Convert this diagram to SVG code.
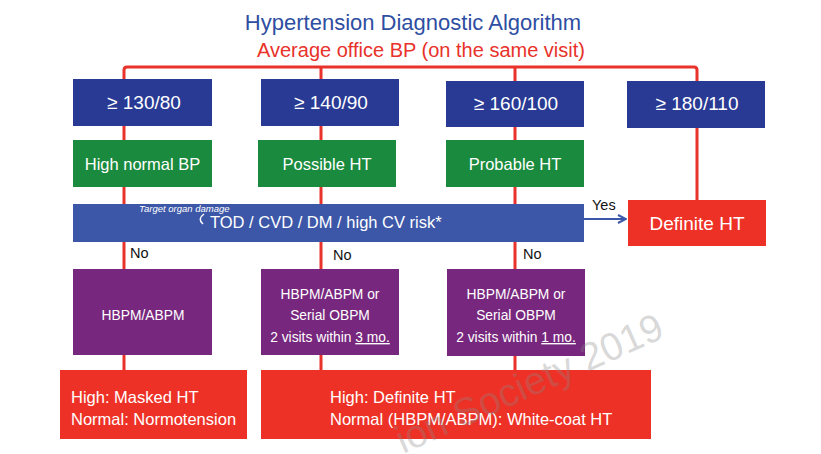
<svg xmlns="http://www.w3.org/2000/svg" width="821" height="454" viewBox="0 0 821 454">
<style>
text{font-family:"Liberation Sans",Arial,sans-serif}
.bl{fill:#283a94}
.gr{fill:#1a8a3e}
.pu{fill:#77277d}
.rd{fill:#ee3126}
.bar{fill:#3c57a8}
.w{fill:#ffffff}
.ln{stroke:#e8322a;stroke-width:3;fill:none}
.t18{font-size:19px;text-anchor:middle}
.t15{font-size:16.5px;text-anchor:middle}
.t13{font-size:13.8px;text-anchor:middle}
.t16{font-size:16.5px}
.no{font-size:14.5px;fill:#111}
</style>
<defs>
<marker id="ah" markerWidth="10" markerHeight="10" refX="9" refY="5" orient="auto" markerUnits="userSpaceOnUse">
<path d="M1,1 L9,5 L1,9" fill="none" stroke="#3c57a8" stroke-width="2"/>
</marker>
</defs>
<rect width="821" height="454" fill="#ffffff"/>
<text x="413" y="30" text-anchor="middle" font-size="22" fill="#2e4ea2">Hypertension Diagnostic Algorithm</text>
<text x="421" y="57" text-anchor="middle" font-size="20" fill="#e8322a">Average office BP (on the same visit)</text>
<g id="connectors">
<path class="ln" d="M124,81 V70 Q124,67 127,67 H694 Q697,67 697,70 V200"/>
<path class="ln" d="M124,81 V370"/>
<path class="ln" d="M321,67 V370"/>
<path class="ln" d="M515,67 V370"/>
<line x1="584" y1="219" x2="626" y2="219" stroke="#3c57a8" stroke-width="2" marker-end="url(#ah)"/>
<text class="no" x="592" y="210">Yes</text>
<text class="no" x="130" y="258">No</text>
<text class="no" x="333" y="260">No</text>
<text class="no" x="523" y="259">No</text>
</g>
<g id="n130"><rect class="bl" x="73" y="79" width="139" height="47"/><text class="t18 w" x="144" y="109">≥ 130/80</text></g>
<g id="n140"><rect class="bl" x="261" y="79" width="138" height="47"/><text class="t18 w" x="331" y="109">≥ 140/90</text></g>
<g id="n160"><rect class="bl" x="446" y="81" width="138" height="46"/><text class="t18 w" x="516" y="110">≥ 160/100</text></g>
<g id="n180"><rect class="bl" x="627" y="81" width="138" height="47"/><text class="t18 w" x="697" y="110">≥ 180/110</text></g>
<g id="highnormal"><rect class="gr" x="73" y="140" width="139" height="47"/><text class="t15 w" x="142.5" y="170">High normal BP</text></g>
<g id="possible"><rect class="gr" x="258" y="140" width="138" height="47"/><text class="t15 w" x="327" y="170">Possible HT</text></g>
<g id="probable"><rect class="gr" x="446" y="140" width="138" height="47"/><text class="t15 w" x="515" y="170">Probable HT</text></g>
<g id="risk"><rect class="bar" x="73" y="204" width="511" height="38"/>
<text class="t16 w" x="210" y="228">TOD / CVD / DM / high CV risk*</text>
<text x="139" y="212" font-size="9.5" font-style="italic" fill="#ffffff">Target organ damage</text>
<path d="M204,214 Q197,219 203,224" stroke="#ffffff" stroke-width="1.5" fill="none"/>
</g>
<g id="definite"><rect class="rd" x="628" y="200" width="138" height="46"/><text class="t18 w" x="697" y="230">Definite HT</text></g>
<g id="hbpm1"><rect class="pu" x="73" y="269" width="139" height="86"/><text class="t13 w" x="143" y="320">HBPM/ABPM</text></g>
<g id="hbpm2"><rect class="pu" x="261" y="269" width="138" height="86"/>
<text class="t13 w" x="330" y="299">HBPM/ABPM or</text>
<text class="t13 w" x="330" y="320">Serial OBPM</text>
<text class="t13 w" x="330" y="342">2 visits within <tspan text-decoration="underline">3 mo.</tspan></text>
</g>
<g id="hbpm3"><rect class="pu" x="447" y="269" width="138" height="87"/>
<text class="t13 w" x="516" y="299">HBPM/ABPM or</text>
<text class="t13 w" x="516" y="320">Serial OBPM</text>
<text class="t13 w" x="516" y="342">2 visits within <tspan text-decoration="underline">1 mo.</tspan></text>
</g>
<g id="result1"><rect class="rd" x="60" y="370" width="187" height="69"/>
<text class="t16 w" x="71" y="403">High: Masked HT</text>
<text class="t16 w" x="71" y="425">Normal: Normotension</text>
</g>
<g id="result2"><rect class="rd" x="261" y="370" width="390" height="69"/>
<text class="t16 w" x="330" y="403">High: Definite HT</text>
<text class="t16 w" x="330" y="425">Normal (HBPM/ABPM): White-coat HT</text>
</g>
<text x="403" y="454" font-size="39" fill="#888888" fill-opacity="0.33" transform="rotate(-24 403 454)">ion Society 2019</text>
</svg>
